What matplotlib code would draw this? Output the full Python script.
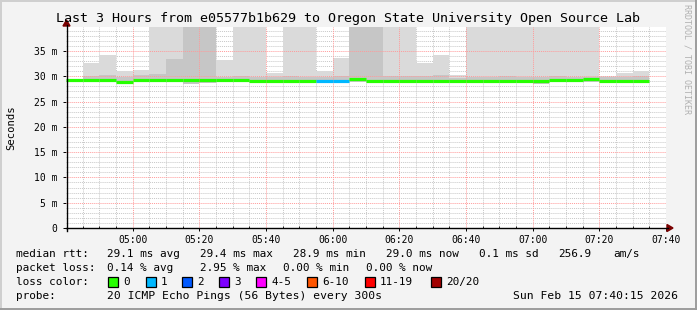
"""
SmokePing latency graph (rrdtool look) - last 3 hours.
"""
import matplotlib
matplotlib.use('Agg')
import matplotlib.pyplot as plt
from matplotlib.lines import Line2D
from matplotlib.patches import Rectangle, Polygon
import numpy as np

W, H, DPI = 697, 310, 100
MONO = 'DejaVu Sans Mono'

# ── Data ──────────────────────────────────────────────────────────────────────
# 5-minute bins starting at 04:40, values in ms
start_label = '04:40'
bin_minutes = 5

median_ms = [29.25, 29.25, 29.25, 28.9, 29.25, 29.25, 29.3, 29.3, 29.3, 29.2,
             29.2, 29.05, 29.05, 29.05, 29.05, 29.05, 29.05, 29.4, 29.15, 29.15,
             29.15, 29.15, 29.15, 29.1, 29.15, 29.15, 29.15, 29.05, 29.15, 29.25,
             29.25, 29.4, 29.15, 29.15, 29.15]
# packet loss class per bin (index into loss_colors)
loss_class = [0] * 15 + [1, 1] + [0] * 18

# smoke: full range (lo .. hi) and denser core (lo .. core_hi); 45 = off the top
smoke_lo = [np.nan, 29.0, 29.0, 28.7, 29.0, 29.0, 29.0, 28.4, 28.7, 28.9,
            29.0, 28.8, 28.7, 28.8, 28.9, 28.9, 28.9, 28.9, 28.9, 28.9,
            28.9, 28.7, 28.8, 28.9, 28.9, 28.9, 28.7, 28.8, 28.5, 28.9,
            29.0, 28.9, 28.9, 28.8, 28.6]
smoke_hi = [np.nan, 32.7, 34.2, 31.1, 31.2, 45, 45, 45, 45, 33.3,
            45, 45, 30.7, 45, 45, 31.1, 33.6, 45, 45, 45,
            45, 32.7, 34.2, 30.2, 45, 45, 45, 45, 45, 45,
            45, 45, 30.0, 30.6, 31.1]
smoke_core = [np.nan, 30.0, 30.2, 29.8, 30.2, 30.5, 33.4, 45, 45, 29.9,
              30.0, 29.8, 29.8, 30.0, 29.8, 29.8, 30.0, 45, 45, 30.0,
              30.0, 30.0, 30.2, 29.6, 29.8, 29.9, 30.0, 29.8, 29.8, 30.0,
              29.9, 29.9, 29.8, 29.9, 30.1]

xtick_labels = ['05:00', '05:20', '05:40', '06:00', '06:20', '06:40',
                '07:00', '07:20', '07:40']
ytick_values = [0, 5, 10, 15, 20, 25, 30, 35]

loss_names = ['0', '1', '2', '3', '4-5', '6-10', '11-19', '20/20']
loss_colors = ['#26ff00', '#00b8ff', '#0059ff', '#7e00ff', '#ff00ff',
               '#ff5500', '#ff0000', '#a10000']

title = 'Last 3 Hours from e05577b1b629 to Oregon State University Open Source Lab'
rtt_parts = ['29.1 ms avg', '29.4 ms max', '28.9 ms min', '29.0 ms now',
             '0.1 ms sd', '256.9', 'am/s']
loss_parts = ['0.14 % avg', '2.95 % max', '0.00 % min', '0.00 % now']
probe_text = '20 ICMP Echo Pings (56 Bytes) every 300s'
stamp_text = 'Sun Feb 15 07:40:15 2026'

# ── Figure ────────────────────────────────────────────────────────────────────
def fx(px):
    return px / W

def fy(py):
    return 1 - py / H

fig = plt.figure(figsize=(W / DPI, H / DPI), dpi=DPI)
fig.patch.set_facecolor('#f3f3f3')

ax = fig.add_axes([fx(66), fy(228), fx(600), 201 / H])
ax.set_facecolor('white')
for sp in ax.spines.values():
    sp.set_visible(False)

n = len(median_ms)
t0 = np.arange(n) * bin_minutes

# smoke
lo = np.array(smoke_lo, dtype=float)
ax.bar(t0, np.array(smoke_hi) - lo, bottom=lo, width=bin_minutes,
       align='edge', color='#dadada', lw=0, zorder=2)
ax.bar(t0, np.array(smoke_core) - lo, bottom=lo, width=bin_minutes,
       align='edge', color='#c6c6c6', lw=0, zorder=2)

# median, coloured by loss
for i in range(n):
    ax.plot([t0[i], t0[i] + bin_minutes], [median_ms[i]] * 2,
            color=loss_colors[loss_class[i]], lw=2.3,
            solid_capstyle='butt', zorder=4)

ax.set_xlim(0, 180)
ax.set_ylim(0, 39.75)

# grid
dot = (0, (1, 1))
for m in range(5, 180, 5):
    major = m % 20 == 0
    ax.axvline(m, color='#ff9a9a' if major else '#c8c8c8', lw=0.7,
               ls=dot, zorder=3 if major else 1)
for v in range(1, 40):
    major = v % 5 == 0
    ax.axhline(v, color='#ff9a9a' if major else '#c8c8c8', lw=0.7,
               ls=dot, zorder=3 if major else 1)

ax.set_xticks([20 * (i + 1) for i in range(len(xtick_labels))])
ax.set_xticklabels(xtick_labels)
ax.set_xticks(np.arange(5, 180, 5), minor=True)
ax.set_yticks(ytick_values)
ax.set_yticklabels(['0' if v == 0 else f'{v} m' for v in ytick_values])
ax.tick_params(axis='both', labelsize=7, length=2.5, width=0.7,
               color='black', pad=3.5)
for lab in ax.get_xticklabels() + ax.get_yticklabels():
    lab.set_family(MONO)
ax.tick_params(axis='x', which='minor', length=1.5, direction='in', width=0.6)
ax.tick_params(axis='x', pad=2.5)

# axes lines + arrows
fig.add_artist(Line2D([fx(66), fx(668)], [fy(228), fy(228)], color='black', lw=1.0))
fig.add_artist(Line2D([fx(66.5), fx(66.5)], [fy(231), fy(25)], color='black', lw=1.0))
fig.add_artist(Polygon([[fx(667), fy(224.5)], [fx(667), fy(231.5)], [fx(673), fy(228)]],
                       closed=True, color='#7a0000', transform=fig.transFigure))
fig.add_artist(Polygon([[fx(63), fy(26)], [fx(70), fy(26)], [fx(66.5), fy(20)]],
                       closed=True, color='#7a0000', transform=fig.transFigure))

# texts
fig.text(fx(348), fy(18.5), title, family=MONO, fontsize=9.6, ha='center', va='center')
fig.text(fx(11), fy(128), 'Seconds', family=MONO, fontsize=7.6, rotation=90,
         ha='center', va='center')
fig.text(fx(687), fy(59), 'RRDTOOL / TOBI OETIKER', family=MONO, fontsize=6,
         rotation=270, ha='center', va='center', color='#b0b0b0')

leg_fs = 7.9
rows = [('median rtt:', rtt_parts, [107, 200, 293, 386, 479, 558, 613], 254),
        ('packet loss:', loss_parts, [107, 200, 283, 366], 268)]
for head, parts, xs, y in rows:
    fig.text(fx(16), fy(y), head, family=MONO, fontsize=leg_fs, va='center')
    for p, x in zip(parts, xs):
        fig.text(fx(x), fy(y), p, family=MONO, fontsize=leg_fs, va='center')

fig.text(fx(16), fy(282), 'loss color:', family=MONO, fontsize=leg_fs, va='center')
box_x = [108, 146, 182, 219, 256, 307, 365, 431]
for name, col, bx in zip(loss_names, loss_colors, box_x):
    fig.add_artist(Rectangle((fx(bx), fy(287)), fx(10), 10 / H, facecolor=col,
                             edgecolor='black', lw=0.9, transform=fig.transFigure))
    fig.text(fx(bx + 15), fy(282), name, family=MONO, fontsize=leg_fs, va='center')

fig.text(fx(16), fy(296), 'probe:', family=MONO, fontsize=leg_fs, va='center')
fig.text(fx(107), fy(296), probe_text, family=MONO, fontsize=8.2, va='center')
fig.text(fx(513), fy(296), stamp_text, family=MONO, fontsize=8.2, va='center')

# frame
fig.add_artist(Line2D([0, 1], [fy(0.5)] * 2, color='#cfcfcf', lw=1.4))
fig.add_artist(Line2D([fx(0.5)] * 2, [0, 1], color='#cfcfcf', lw=1.4))
fig.add_artist(Line2D([0, 1], [fy(309)] * 2, color='#9c9c9c', lw=1.4))
fig.add_artist(Line2D([fx(696)] * 2, [0, 1], color='#9c9c9c', lw=1.4))

fig.savefig('out.png', dpi=DPI, facecolor=fig.get_facecolor())
